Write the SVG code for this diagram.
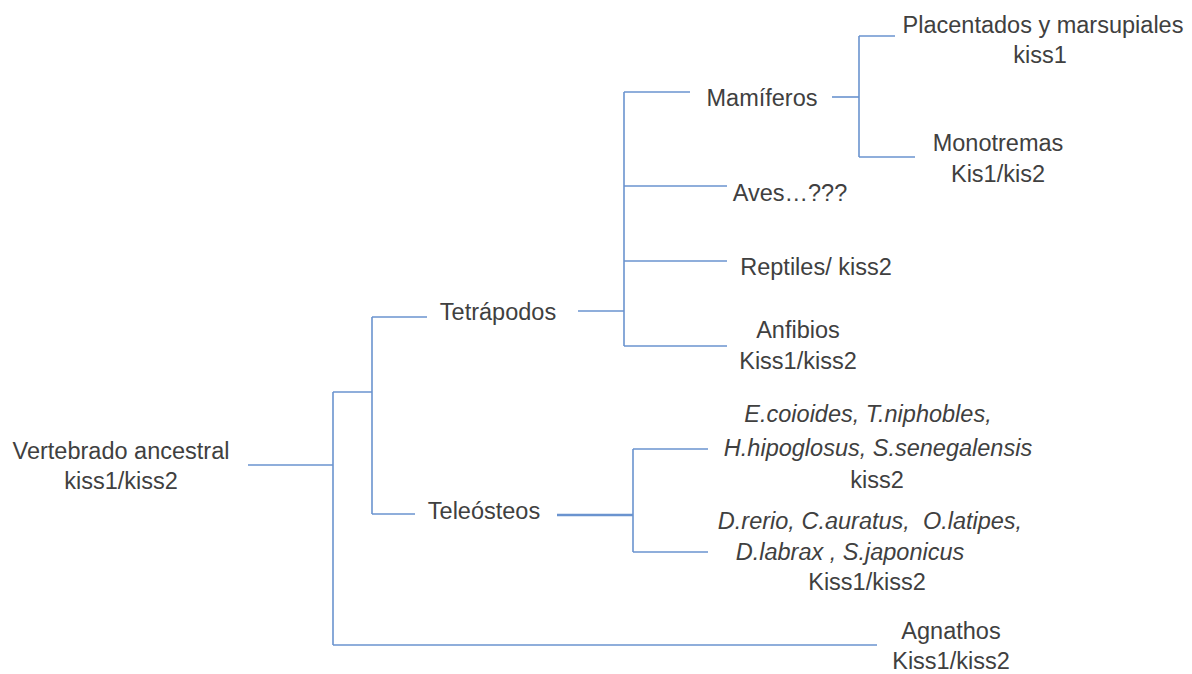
<svg xmlns="http://www.w3.org/2000/svg" width="1192" height="674" viewBox="0 0 1192 674">
<style>
text{font-family:"Liberation Sans",Arial,sans-serif;font-size:23.5px;fill:#404040;text-anchor:middle}
.i{font-style:italic}
.c line{stroke:#6a93cf;stroke-width:1.6;fill:none}
</style>
<rect width="1192" height="674" fill="#ffffff"/>
<g class="c" id="connectors">
<line x1="248" y1="465" x2="333" y2="465"/>
<line x1="333" y1="392" x2="333" y2="645"/>
<line x1="333" y1="392" x2="372" y2="392"/>
<line x1="333" y1="645" x2="877" y2="645"/>
<line x1="372" y1="317" x2="372" y2="514"/>
<line x1="372" y1="317" x2="427" y2="317"/>
<line x1="372" y1="514" x2="415" y2="514"/>
<line x1="578" y1="311" x2="624" y2="311"/>
<line x1="624" y1="92" x2="624" y2="346"/>
<line x1="624" y1="92" x2="690" y2="92"/>
<line x1="624" y1="186" x2="727" y2="186"/>
<line x1="624" y1="261" x2="727" y2="261"/>
<line x1="624" y1="346" x2="727" y2="346"/>
<line x1="832" y1="97" x2="859" y2="97"/>
<line x1="859" y1="36" x2="859" y2="157"/>
<line x1="859" y1="36" x2="895" y2="36"/>
<line x1="859" y1="157" x2="915" y2="157"/>
<line x1="557" y1="515" x2="633" y2="515" style="stroke-width:2.4"/>
<line x1="633" y1="449" x2="633" y2="552"/>
<line x1="633" y1="449" x2="708" y2="449"/>
<line x1="633" y1="552" x2="708" y2="552"/>
</g>
<g id="vertebrado"><text x="121" y="459">Vertebrado ancestral</text><text x="121" y="489">kiss1/kiss2</text></g>
<g id="tetrapodos"><text x="498" y="320">Tetrápodos</text></g>
<g id="teleosteos"><text x="484" y="519">Teleósteos</text></g>
<g id="agnathos"><text x="951" y="639">Agnathos</text><text x="951" y="669">Kiss1/kiss2</text></g>
<g id="mamiferos"><text x="762" y="106">Mamíferos</text></g>
<g id="aves"><text x="790" y="201">Aves…???</text></g>
<g id="reptiles"><text x="816" y="275">Reptiles/ kiss2</text></g>
<g id="anfibios"><text x="798" y="338">Anfibios</text><text x="798" y="369">Kiss1/kiss2</text></g>
<g id="placentados"><text x="1043" y="33">Placentados y marsupiales</text><text x="1040" y="63">kiss1</text></g>
<g id="monotremas"><text x="998" y="151">Monotremas</text><text x="998" y="182">Kis1/kis2</text></g>
<g id="teleo-kiss2"><text class="i" x="868" y="422">E.coioides, T.niphobles,</text><text class="i" x="878" y="456">H.hipoglosus, S.senegalensis</text><text x="877" y="488">kiss2</text></g>
<g id="teleo-kiss1"><text class="i" x="870" y="529" xml:space="preserve">D.rerio, C.auratus,  O.latipes,</text><text class="i" x="850" y="560">D.labrax , S.japonicus</text><text x="867" y="590">Kiss1/kiss2</text></g>
</svg>
